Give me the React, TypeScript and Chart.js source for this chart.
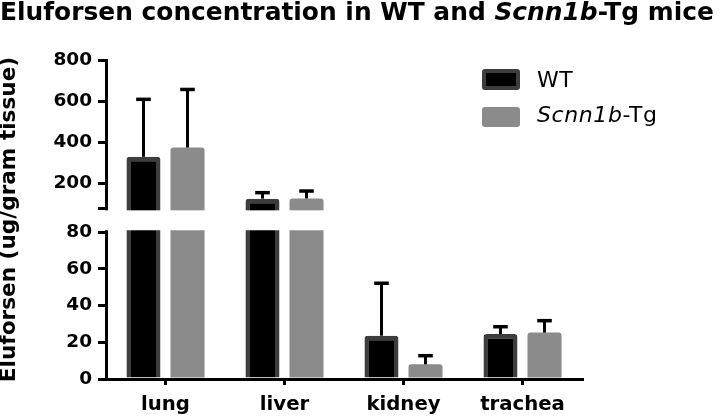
import React, { useEffect, useRef } from 'react';
import { Chart, LinearScale, registerables } from 'chart.js';

// ---------- data ----------
const CATEGORIES = ['lung', 'liver', 'kidney', 'trachea'];
const WT_MEAN = [330, 127, 23.6, 24.5];
const WT_ERR_TOP = [609, 156, 52.2, 28.5];
const TG_MEAN = [375, 128, 8, 25.3];
const TG_ERR_TOP = [657, 164, 12.7, 31.8];

const LOWER_TICKS = [0, 20, 40, 60, 80];
const UPPER_TICKS = [80, 200, 400, 600, 800];
const UPPER_TICK_LABELS = ['', '200', '400', '600', '800'];
const LOWER_MAX = 80;
const UPPER_MIN = 80;
const Y_MAX = 800;

const SERIES_WT = 'WT';
const SERIES_TG = 'Scnn1b-Tg';
const Y_TITLE = 'Eluforsen (ug/gram tissue)';

// ---------- styling ----------
const FONT = "'DejaVu Sans', sans-serif";
const WT_FILL = '#000000';
const WT_BORDER = '#3d3d3d';
const TG_FILL = '#8b8b8b';
const LOWER_FRAC = 0.46;
const GAP_FRAC = 0.075;

class BrokenLinearScale extends LinearScale {
  static id = 'brokenLinear';
  static defaults = LinearScale.defaults;

  buildTicks() {
    this.min = 0;
    this.max = Y_MAX;
    const lower = LOWER_TICKS.map((v) => ({ value: v, upper: false, text: String(v) }));
    const upper = UPPER_TICKS.map((v, i) => ({ value: v, upper: true, text: UPPER_TICK_LABELS[i] }));
    return [...lower, ...upper] as any;
  }

  segments() {
    const H = this.bottom - this.top;
    const lowerTop = this.bottom - H * LOWER_FRAC;
    const upperBottom = lowerTop - H * GAP_FRAC;
    return { lowerTop, upperBottom };
  }

  upperPixel(value: number) {
    const { upperBottom } = this.segments();
    return upperBottom - ((value - UPPER_MIN) / (Y_MAX - UPPER_MIN)) * (upperBottom - this.top);
  }

  lowerPixel(value: number) {
    const { lowerTop } = this.segments();
    return this.bottom - (value / LOWER_MAX) * (this.bottom - lowerTop);
  }

  getPixelForValue(value: number) {
    if (value <= LOWER_MAX) return this.lowerPixel(value);
    return this.upperPixel(value);
  }

  getValueForPixel(pixel: number) {
    const { lowerTop, upperBottom } = this.segments();
    if (pixel >= lowerTop) return ((this.bottom - pixel) / (this.bottom - lowerTop)) * LOWER_MAX;
    if (pixel <= upperBottom)
      return UPPER_MIN + ((upperBottom - pixel) / (upperBottom - this.top)) * (Y_MAX - UPPER_MIN);
    return LOWER_MAX;
  }

  getPixelForTick(index: number) {
    const t: any = this.ticks[index];
    if (!t) return null as any;
    return t.upper ? this.upperPixel(t.value) : this.lowerPixel(t.value);
  }
}

Chart.register(...registerables, BrokenLinearScale);

const errorBarsAndBreak = {
  id: 'errorBarsAndBreak',
  afterDatasetsDraw(chart: any) {
    const { ctx, chartArea } = chart;
    const y = chart.scales.y as BrokenLinearScale;
    const tops = [WT_ERR_TOP, TG_ERR_TOP];
    ctx.save();
    ctx.strokeStyle = '#000';
    ctx.lineCap = 'butt';
    tops.forEach((errs, d) => {
      const meta = chart.getDatasetMeta(d);
      meta.data.forEach((bar: any, j: number) => {
        const yErr = y.getPixelForValue(errs[j]);
        ctx.lineWidth = 3;
        ctx.beginPath();
        ctx.moveTo(bar.x, bar.y);
        ctx.lineTo(bar.x, yErr);
        ctx.stroke();
        ctx.lineWidth = 3.5;
        ctx.beginPath();
        ctx.moveTo(bar.x - 7.3, yErr);
        ctx.lineTo(bar.x + 7.3, yErr);
        ctx.stroke();
      });
    });
    // axis break gap
    const { lowerTop, upperBottom } = y.segments();
    ctx.fillStyle = '#ffffff';
    ctx.fillRect(chartArea.left - 6, upperBottom + 2, chartArea.right - chartArea.left + 6, lowerTop - upperBottom - 4);
    ctx.restore();
  },
};

export default function App() {
  const ref = useRef<HTMLCanvasElement>(null);
  useEffect(() => {
    const chart = new Chart(ref.current!, {
      type: 'bar',
      data: {
        labels: CATEGORIES,
        datasets: [
          {
            label: SERIES_WT,
            data: WT_MEAN,
            backgroundColor: WT_FILL,
            borderColor: WT_BORDER,
            borderWidth: 4.5,
            borderRadius: 3,
            borderSkipped: 'start',
          },
          {
            label: SERIES_TG,
            data: TG_MEAN,
            backgroundColor: TG_FILL,
            borderWidth: 0,
            borderRadius: 3,
          },
        ],
      },
      options: {
        responsive: false,
        animation: false,
        layout: { padding: { top: 60, right: 138, bottom: 0, left: 0 } },
        datasets: { bar: { categoryPercentage: 0.74, barPercentage: 0.773 } },
        plugins: { legend: { display: false }, tooltip: { enabled: false }, title: { display: false } },
        scales: {
          x: {
            grid: { display: true, offset: false, drawOnChartArea: false, drawTicks: true, tickLength: 6, lineWidth: 3, color: '#000' },
            border: { display: true, width: 3, color: '#000' },
            ticks: { color: '#000', font: { family: FONT, size: 19.7, weight: 'bold' }, padding: 8, autoSkip: false, maxRotation: 0 },
            afterFit: (s: any) => { s.height = 39; },
          },
          y: {
            type: 'brokenLinear' as any,
            min: 0,
            max: Y_MAX,
            grid: { display: true, drawOnChartArea: false, drawTicks: true, tickLength: 8, lineWidth: 3, color: '#000' },
            border: { display: true, width: 3, color: '#000' },
            ticks: {
              color: '#000',
              font: { family: FONT, size: 18.5, weight: 'bold' },
              padding: 6,
              autoSkip: false,
              callback: function (this: any, _v: any, i: number) { return this.ticks[i].text; },
            },
            title: {
              display: true,
              text: Y_TITLE,
              color: '#000',
              font: { family: FONT, size: 21.6, weight: 'bold', lineHeight: 0.85 },
              padding: 0,
            },
            afterFit: (s: any) => { s.width = 106; },
          },
        },
      },
      plugins: [errorBarsAndBreak],
    } as any);
    return () => chart.destroy();
  }, []);

  const legendText: React.CSSProperties = {
    position: 'absolute', fontFamily: FONT, fontSize: 22, lineHeight: '22px', color: '#000', whiteSpace: 'nowrap', letterSpacing: 0.6,
  };

  return (
    <div style={{ position: 'absolute', left: 0, top: 0, width: 720, height: 418, background: '#fff', overflow: 'hidden' }}>
      <canvas ref={ref} width={720} height={418} style={{ position: 'absolute', left: 0, top: 0, display: 'block' }} />
      <div style={{ position: 'absolute', left: 0, top: 0, fontFamily: FONT, fontWeight: 'bold', fontSize: 24.9, lineHeight: '24.9px', whiteSpace: 'nowrap', color: '#000' }}>
        Eluforsen concentration in WT and <i>Scnn1b</i>-Tg mice
      </div>
      <div style={{ position: 'absolute', left: 482, top: 69, width: 38, height: 21, boxSizing: 'border-box', background: WT_FILL, border: `4.5px solid ${WT_BORDER}`, borderRadius: 3 }} />
      <div style={{ ...legendText, left: 537, top: 69 }}>{SERIES_WT}</div>
      <div style={{ position: 'absolute', left: 482, top: 107, width: 38, height: 20, background: TG_FILL, borderRadius: 3 }} />
      <div style={{ ...legendText, left: 537, top: 104 }}>
        <i>Scnn1b</i>-Tg
      </div>
    </div>
  );
}
